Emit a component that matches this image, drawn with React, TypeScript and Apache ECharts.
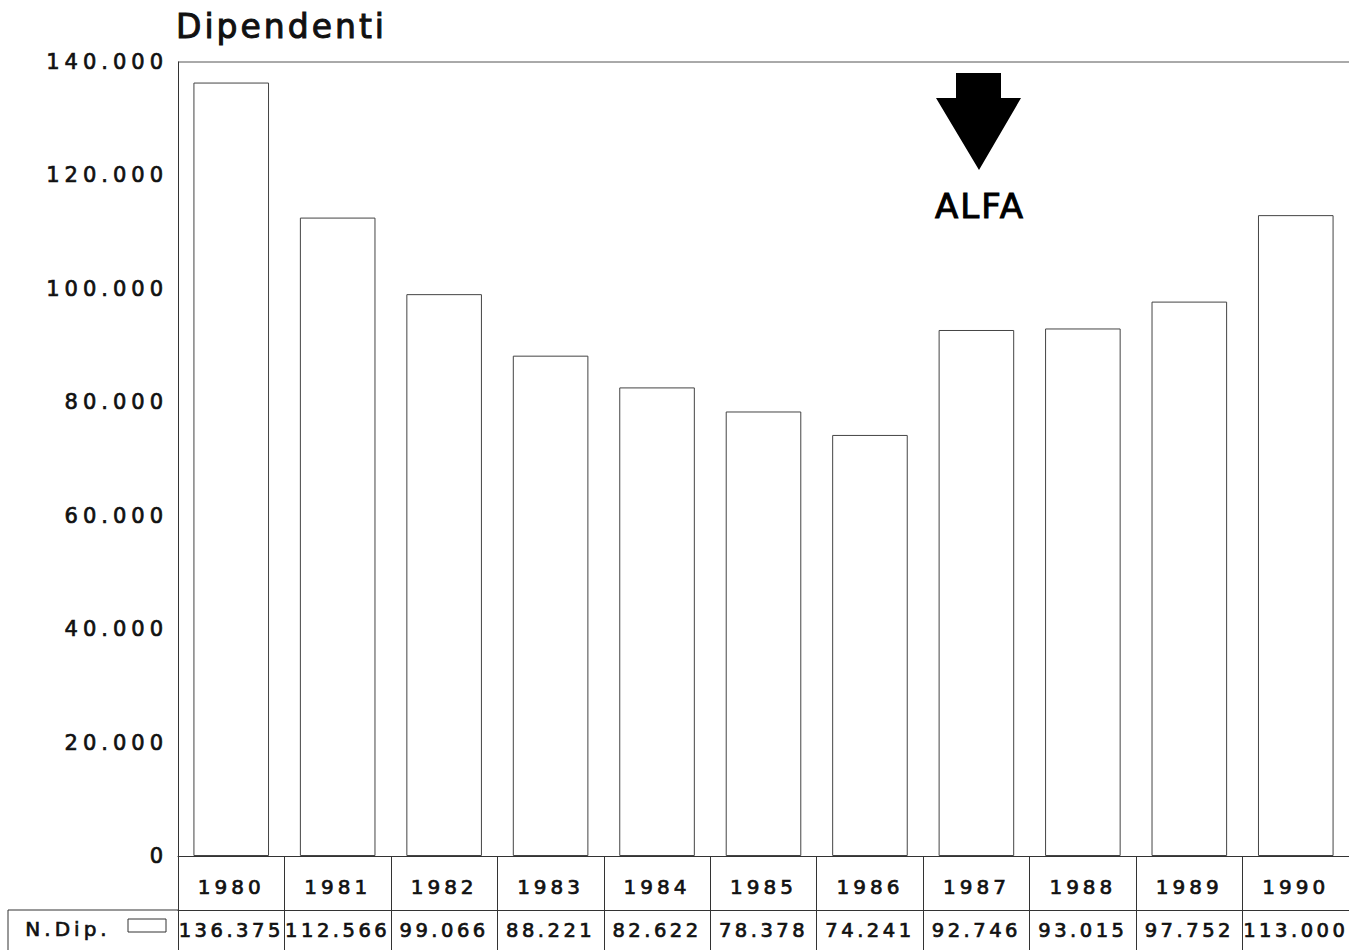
import React, { useEffect, useRef } from 'react';
import * as echarts from 'echarts';

const years = ['1980', '1981', '1982', '1983', '1984', '1985', '1986', '1987', '1988', '1989', '1990'];
const dipendenti = [136375, 112566, 99066, 88221, 82622, 78378, 74241, 92746, 93015, 97752, 113000];
const yMin = 0;
const yMax = 140000;
const yStep = 20000;
const chartTitle = 'Dipendenti';
const seriesName = 'N.Dip.';
const annotation = 'ALFA';

const fmt = (v: number) => String(v).replace(/\B(?=(\d{3})+(?!\d))/g, '.');

const FONT = "'DejaVu Sans', sans-serif";
const INK = '#111';
const LINE = '#333';

const css = `
#chartbox { letter-spacing: 4px; }
#chartbox [style*="33px"] { letter-spacing: 3px; }
#chartbox [style*="34px"] { letter-spacing: 2px; }
#chartbox [style*="21px"] { letter-spacing: 5px; }
#chartbox [style*="19.5px"] { letter-spacing: 3.5px; }
#chartbox [style*="20px"] { letter-spacing: 4px; }
`;

export default function App() {
  const ref = useRef<HTMLDivElement>(null);
  useEffect(() => {
    if (!ref.current) return;
    const chart = echarts.init(ref.current, null, { renderer: 'svg' });
    const bold = { textBorderColor: INK, textBorderWidth: 0.7 };
    chart.setOption({
      animation: false,
      backgroundColor: '#fff',
      title: {
        text: chartTitle,
        left: 176,
        top: 10,
        padding: 0,
        textStyle: { fontFamily: FONT, fontSize: 33, fontWeight: 'normal', color: INK, textBorderColor: INK, textBorderWidth: 1 },
      },
      grid: {
        left: 178,
        top: 62,
        right: -2,
        bottom: 94,
        containLabel: false,
        show: false,
      },
      xAxis: [
        {
          type: 'category',
          data: years,
          position: 'bottom',
          boundaryGap: true,
          axisLine: { show: true, lineStyle: { color: LINE, width: 1 } },
          axisTick: { show: true, interval: 0, length: 94, inside: false, lineStyle: { color: LINE, width: 1 } },
          axisLabel: { interval: 0, margin: 21, fontFamily: FONT, fontSize: 20, color: INK, ...bold },
          splitLine: { show: false },
        },
        {
          type: 'category',
          data: dipendenti.map(fmt),
          position: 'bottom',
          offset: 54,
          boundaryGap: true,
          axisLine: { show: true, lineStyle: { color: LINE, width: 1 } },
          axisTick: { show: false },
          axisLabel: { interval: 0, margin: 10, fontFamily: FONT, fontSize: 19.5, color: INK, ...bold },
          splitLine: { show: false },
        },
      ],
      yAxis: {
        type: 'value',
        min: yMin,
        max: yMax,
        interval: yStep,
        axisLine: { show: true, lineStyle: { color: LINE, width: 1 } },
        axisTick: { show: false },
        splitLine: { show: false },
        axisLabel: {
          margin: 10,
          padding: [5, 0, 0, 0],
          fontFamily: FONT,
          fontSize: 21,
          color: INK,
          ...bold,
          formatter: (v: number) => fmt(v),
        },
      },
      series: [
        {
          name: seriesName,
          type: 'bar',
          xAxisIndex: 0,
          data: dipendenti,
          barWidth: '71%',
          itemStyle: { color: '#fff', borderColor: '#444', borderWidth: 1 },
        },
      ],
      graphic: [
        { type: 'line', shape: { x1: 178, y1: 62, x2: 1349, y2: 62 }, style: { stroke: '#555', lineWidth: 1 } },
        { type: 'line', shape: { x1: 8, y1: 910, x2: 178, y2: 910 }, style: { stroke: LINE, lineWidth: 1 } },
        { type: 'line', shape: { x1: 8, y1: 910, x2: 8, y2: 950 }, style: { stroke: LINE, lineWidth: 1 } },
        {
          type: 'text',
          left: 25,
          top: 919,
          style: { text: seriesName, fontFamily: FONT, fontSize: 20, fill: INK, stroke: INK, lineWidth: 0.7 },
        },
        { type: 'rect', shape: { x: 128, y: 919, width: 38, height: 13 }, style: { fill: '#fff', stroke: LINE, lineWidth: 1 } },
        {
          type: 'polygon',
          shape: {
            points: [
              [956, 73],
              [1001, 73],
              [1001, 98],
              [1021, 98],
              [979, 170],
              [936, 98],
              [956, 98],
            ],
          },
          style: { fill: '#000' },
        },
        {
          type: 'text',
          x: 980,
          y: 206,
          style: { text: annotation, fontFamily: FONT, fontSize: 34, fill: '#000', stroke: '#000', lineWidth: 1, align: 'center', verticalAlign: 'middle' },
        },
      ],
    });
    return () => chart.dispose();
  }, []);
  return (
    <>
      <style>{css}</style>
      <div
        id="chartbox"
        ref={ref}
        style={{ position: 'absolute', left: 0, top: 0, width: 1349, height: 950 }}
      />
    </>
  );
}
